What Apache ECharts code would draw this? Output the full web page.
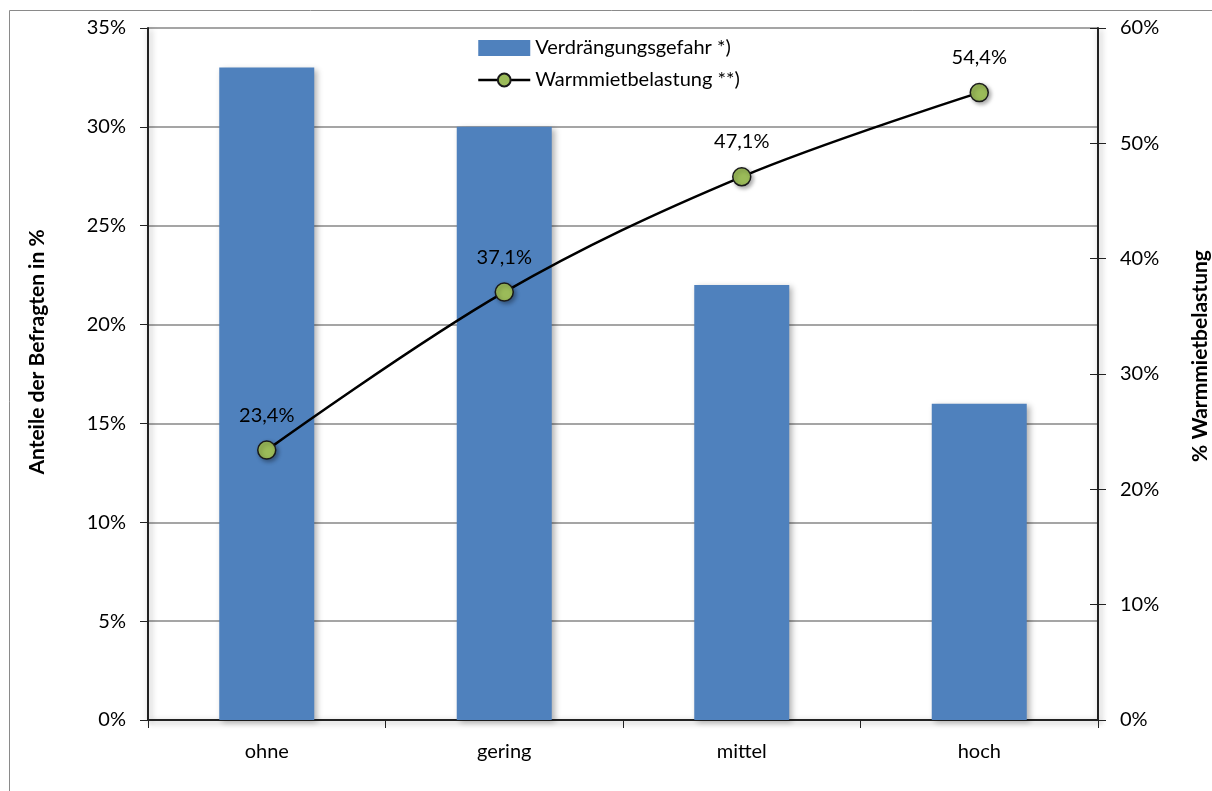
<!DOCTYPE html>
<html>
<head>
<meta charset="utf-8">
<script src="https://cdn.jsdelivr.net/npm/echarts@6/dist/echarts.min.js"></script>
<style>
html,body{margin:0;padding:0;background:#fff;}
#chart{width:1212px;height:791px;}
</style>
</head>
<body>
<div id="chart"></div>
<script>
// Kategorien und Werte
const categories = ['ohne', 'gering', 'mittel', 'hoch'];
const verdraengung = [33, 30, 22, 16];          // Anteile der Befragten in %
const warmmiete = [23.4, 37.1, 47.1, 54.4];     // % Warmmietbelastung
const leftTicks = { min: 0, max: 35, interval: 5 };
const rightTicks = { min: 0, max: 60, interval: 10 };

const FONT = 'Lato, "Open Sans", sans-serif';
const pct = v => v + '%';
const deComma = v => v.toFixed(1).replace('.', ',') + '%';

const chart = echarts.init(document.getElementById('chart'), null, { renderer: 'canvas' });

const axisShadow = { color: '#222', width: 2, shadowColor: 'rgba(0,0,0,0.35)', shadowBlur: 6, shadowOffsetX: 2, shadowOffsetY: 2 };

chart.setOption({
  animation: false,
  textStyle: { fontFamily: FONT },
  graphic: [{
    type: 'rect',
    shape: { x: 9.5, y: 10.5, width: 1260, height: 820 },
    style: { fill: 'none', stroke: '#8a8a8a', lineWidth: 1 },
    silent: true
  }],
  grid: { left: 148, right: 114, top: 28, bottom: 71, containLabel: false, outerBoundsMode: 'none' },
  legend: {
    orient: 'vertical',
    left: 472, top: 33,
    itemGap: 12,
    itemWidth: 52, itemHeight: 16,
    textStyle: { fontFamily: FONT, fontSize: 20, color: '#000' },
    data: [
      { name: 'Verdrängungsgefahr *)', icon: 'rect', itemStyle: { shadowBlur: 0, shadowOffsetX: 0, shadowOffsetY: 0 } },
      { name: 'Warmmietbelastung **)', lineStyle: { width: 2.5 } }
    ]
  },
  xAxis: {
    type: 'category',
    data: categories,
    axisLine: { lineStyle: axisShadow },
    axisTick: { show: true, alignWithLabel: false, length: 8, inside: false, lineStyle: { color: '#222', width: 1 } },
    axisLabel: { fontFamily: FONT, fontSize: 20, color: '#000', margin: 22 }
  },
  yAxis: [
    {
      type: 'value', position: 'left',
      min: leftTicks.min, max: leftTicks.max, interval: leftTicks.interval,
      name: 'Anteile der Befragten in %',
      nameLocation: 'middle', nameGap: 100, nameRotate: 90,
      nameTextStyle: { fontFamily: FONT, fontSize: 21, fontWeight: 'bold', color: '#000', padding: [0, 0, 0, 44] },
      axisLine: { show: true, lineStyle: axisShadow },
      axisTick: { show: true, length: 8, lineStyle: { color: '#222' } },
      axisLabel: { fontFamily: FONT, fontSize: 20, color: '#000', margin: 22, formatter: pct },
      splitLine: { show: true, lineStyle: { color: '#878787', width: 1.5 } }
    },
    {
      type: 'value', position: 'right',
      min: rightTicks.min, max: rightTicks.max, interval: rightTicks.interval,
      name: '% Warmmietbelastung',
      nameLocation: 'middle', nameGap: 92, nameRotate: 90,
      nameTextStyle: { fontFamily: FONT, fontSize: 21, fontWeight: 'bold', color: '#000', padding: [0, 0, 0, 36] },
      axisLine: { show: true, lineStyle: axisShadow },
      axisTick: { show: true, length: 8, lineStyle: { color: '#222' } },
      axisLabel: { fontFamily: FONT, fontSize: 20, color: '#000', margin: 22, formatter: pct },
      splitLine: { show: false }
    },
    {
      // inner half of the crossing ticks on the right axis
      type: 'value', position: 'right',
      min: rightTicks.min, max: rightTicks.max, interval: rightTicks.interval,
      axisLine: { show: false },
      axisTick: { show: true, inside: true, length: 8, lineStyle: { color: '#222' } },
      axisLabel: { show: false },
      splitLine: { show: false }
    }
  ],
  series: [
    {
      name: 'Verdrängungsgefahr *)',
      type: 'bar',
      yAxisIndex: 0,
      data: verdraengung,
      barWidth: '40%',
      itemStyle: { color: '#4F81BD', shadowColor: 'rgba(0,0,0,0.3)', shadowBlur: 6, shadowOffsetX: 3, shadowOffsetY: 2 }
    },
    {
      name: 'Warmmietbelastung **)',
      type: 'line',
      yAxisIndex: 1,
      data: warmmiete,
      smooth: 0.35,
      symbol: 'circle',
      symbolSize: 18,
      lineStyle: { color: '#000', width: 2.5 },
      itemStyle: { color: '#9BBB59', borderColor: '#1a1a1a', borderWidth: 1.5, shadowColor: 'rgba(0,0,0,0.35)', shadowBlur: 4, shadowOffsetX: 2, shadowOffsetY: 2 },
      label: {
        show: true, position: 'top', distance: 15,
        fontFamily: FONT, fontSize: 20, color: '#000',
        formatter: p => deComma(p.value)
      },
      z: 5
    }
  ]
});
</script>
</body>
</html>
